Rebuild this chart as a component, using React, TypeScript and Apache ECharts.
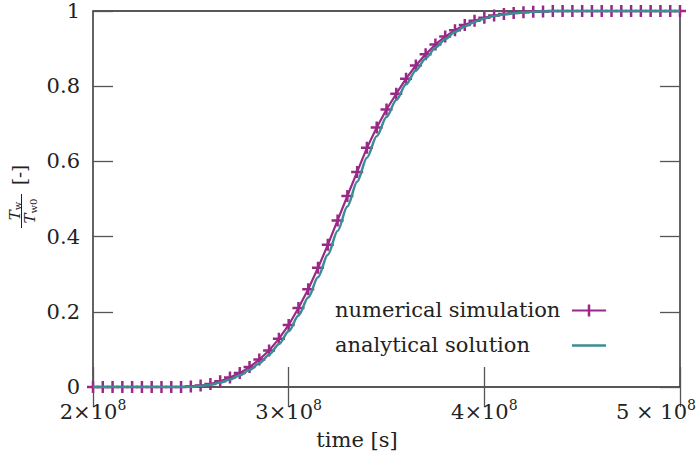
import React, { useEffect, useRef } from "react";
import * as echarts from "echarts";

// time samples, in units of 1e8 s
const timeE8 = [
  2.0, 2.05, 2.1, 2.15, 2.2, 2.25, 2.3, 2.35, 2.4, 2.45,
  2.5, 2.55, 2.6, 2.65, 2.7, 2.75, 2.8, 2.85, 2.9, 2.95,
  3.0, 3.05, 3.1, 3.15, 3.2, 3.25, 3.3, 3.35, 3.4, 3.45,
  3.5, 3.55, 3.6, 3.65, 3.7, 3.75, 3.8, 3.85, 3.9, 3.95,
  4.0, 4.05, 4.1, 4.15, 4.2, 4.25, 4.3, 4.35, 4.4, 4.45,
  4.5, 4.55, 4.6, 4.65, 4.7, 4.75, 4.8, 4.85, 4.9, 4.95,
  5.0,
];

const numerical = [
  0, 0, 0, 0, 0, 0, 0, 0, 0, 0,
  0.001, 0.004, 0.008, 0.015, 0.025, 0.037, 0.053, 0.073, 0.097, 0.128,
  0.165, 0.21, 0.26, 0.317, 0.378, 0.443, 0.508, 0.572, 0.636, 0.69,
  0.738, 0.78, 0.82, 0.855, 0.885, 0.911, 0.932, 0.949, 0.963, 0.974,
  0.982, 0.988, 0.992, 0.995, 0.997, 0.998, 0.999, 1, 1, 1,
  1, 1, 1, 1, 1, 1, 1, 1, 1, 1,
  1,
];

const analytical = [
  0, 0, 0, 0, 0, 0, 0, 0, 0, 0,
  0.0, 0.003, 0.006, 0.012, 0.02, 0.031, 0.045, 0.063, 0.086, 0.114,
  0.148, 0.19, 0.238, 0.292, 0.352, 0.415, 0.48, 0.546, 0.61, 0.667,
  0.718, 0.763, 0.805, 0.842, 0.874, 0.902, 0.925, 0.944, 0.959, 0.971,
  0.98, 0.987, 0.991, 0.994, 0.996, 0.998, 0.999, 1, 1, 1,
  1, 1, 1, 1, 1, 1, 1, 1, 1, 1,
  1,
];

const xTickValuesE8 = [2, 3, 4, 5];
const xTickMantissa = ["2×10", "3×10", "4×10", "5 × 10"];
const xTickExponent = "8";
const yTickValues = [0, 0.2, 0.4, 0.6, 0.8, 1];
const yTickLabels = ["0", "0.2", "0.4", "0.6", "0.8", "1"];

const seriesNames = ["numerical simulation", "analytical solution"];
const xTitle = "time [s]";

const PURPLE = "#9b2787";
const TEAL = "#3a8d96";
const TEXT = "#222";
const FONT = "DejaVu Serif";
const FS = 21;

export default function App() {
  const ref = useRef<HTMLDivElement>(null);

  useEffect(() => {
    if (!ref.current) return;
    const chart = echarts.init(ref.current, null, { renderer: "svg" });

    const numData = timeE8.map((t, i) => [t * 1e8, numerical[i]]);
    const anaData = timeE8.map((t, i) => [t * 1e8, analytical[i]]);

    const baseTick = {
      inside: true,
      length: 20,
      lineStyle: { color: "#555", width: 1.3 },
    };

    const option: any = {
      animation: false,
      backgroundColor: "#fff",
      textStyle: { fontFamily: FONT },
      grid: {
        left: 93,
        right: 16,
        top: 11,
        bottom: 69,
        containLabel: false,
        outerBoundsMode: "none",
        show: true,
        borderColor: "#222",
        borderWidth: 1.4,
        backgroundColor: "transparent",
      },
      xAxis: [
        {
          type: "value",
          min: 2e8,
          max: 5e8,
          interval: 1e8,
          axisLine: { show: false },
          axisTick: baseTick,
          splitLine: { show: false },
          axisLabel: {
            margin: 11,
            color: TEXT,
            fontFamily: FONT,
            formatter: (v: number) => {
              const idx = xTickValuesE8.findIndex((t) => Math.abs(t * 1e8 - v) < 1);
              if (idx < 0) return "";
              const last = idx === xTickValuesE8.length - 1;
              return last
                ? `{ml|${xTickMantissa[idx]}}{el|${xTickExponent}}`
                : `{m|${xTickMantissa[idx]}}{e|${xTickExponent}}`;
            },
            rich: {
              m: { fontSize: FS, fontFamily: FONT, color: TEXT },
              e: {
                fontSize: 14,
                fontFamily: FONT,
                color: TEXT,
                verticalAlign: "bottom",
                padding: [0, 0, 14, 0],
              },
              ml: { fontSize: FS, fontFamily: FONT, color: TEXT },
              el: {
                fontSize: 14,
                fontFamily: FONT,
                color: TEXT,
                verticalAlign: "bottom",
                padding: [0, 48, 14, 0],
              },
            },
          },
        },
        {
          type: "value",
          position: "top",
          min: 2e8,
          max: 5e8,
          interval: 1e8,
          axisLine: { show: false },
          axisTick: baseTick,
          axisLabel: { show: false },
          splitLine: { show: false },
        },
      ],
      yAxis: [
        {
          type: "value",
          min: 0,
          max: 1,
          interval: 0.2,
          axisLine: { show: false },
          axisTick: baseTick,
          splitLine: { show: false },
          axisLabel: {
            margin: 13,
            color: TEXT,
            fontFamily: FONT,
            fontSize: FS,
            formatter: (v: number) => {
              const idx = yTickValues.findIndex((t) => Math.abs(t - v) < 1e-6);
              return idx < 0 ? "" : yTickLabels[idx];
            },
          },
        },
        {
          type: "value",
          position: "right",
          min: 0,
          max: 1,
          interval: 0.2,
          axisLine: { show: false },
          axisTick: baseTick,
          axisLabel: { show: false },
          splitLine: { show: false },
        },
      ],
      series: [
        {
          name: seriesNames[0],
          type: "line",
          data: numData,
          clip: false,
          symbol: "path://M6,0L6,12M0,6L12,6",
          symbolSize: 12,
          showSymbol: true,
          lineStyle: { color: PURPLE, width: 2.2 },
          itemStyle: { color: PURPLE, borderColor: PURPLE, borderWidth: 2.5 },
          z: 2,
        },
        {
          name: seriesNames[1],
          type: "line",
          data: anaData,
          smooth: 0.3,
          smoothMonotone: "x",
          showSymbol: false,
          lineStyle: { color: TEAL, width: 2.5 },
          z: 3,
        },
      ],
      graphic: [
        // legend
        {
          type: "text",
          x: 335,
          y: 310,
          style: {
            text: seriesNames[0],
            fill: TEXT,
            fontSize: FS,
            fontFamily: FONT,
            verticalAlign: "middle",
          },
        },
        {
          type: "line",
          shape: { x1: 572, y1: 310.5, x2: 606, y2: 310.5 },
          style: { stroke: PURPLE, lineWidth: 2.2 },
        },
        {
          type: "line",
          shape: { x1: 589, y1: 304.5, x2: 589, y2: 316.5 },
          style: { stroke: PURPLE, lineWidth: 2.5 },
        },
        {
          type: "text",
          x: 335,
          y: 345,
          style: {
            text: seriesNames[1],
            fill: TEXT,
            fontSize: FS,
            fontFamily: FONT,
            verticalAlign: "middle",
          },
        },
        {
          type: "line",
          shape: { x1: 572, y1: 345.5, x2: 606, y2: 345.5 },
          style: { stroke: TEAL, lineWidth: 2.5 },
        },
        // x title
        {
          type: "text",
          x: 357,
          y: 440,
          style: {
            text: xTitle,
            fill: TEXT,
            fontSize: FS,
            fontFamily: FONT,
            align: "center",
            verticalAlign: "middle",
          },
        },
        // y title: fraction T_w / T_w0 [-], rotated
        {
          type: "group",
          x: 21.5,
          y: 211,
          rotation: Math.PI / 2,
          children: [
            {
              type: "text",
              x: 0,
              y: -7,
              style: {
                text: "{i|T}{s|w}",
                align: "center",
                verticalAlign: "middle",
                rich: {
                  i: { fontSize: 15, fontStyle: "italic", fontFamily: FONT, fill: TEXT },
                  s: { fontSize: 10, fontFamily: FONT, fill: TEXT, verticalAlign: "bottom", padding: [6, 0, 0, 0] },
                },
              },
            },
            {
              type: "line",
              shape: { x1: -17, y1: 0, x2: 17, y2: 0 },
              style: { stroke: TEXT, lineWidth: 1 },
            },
            {
              type: "text",
              x: 0,
              y: 8.5,
              style: {
                text: "{i|T}{s|w0}",
                align: "center",
                verticalAlign: "middle",
                rich: {
                  i: { fontSize: 15, fontStyle: "italic", fontFamily: FONT, fill: TEXT },
                  s: { fontSize: 10, fontFamily: FONT, fill: TEXT, verticalAlign: "bottom", padding: [6, 0, 0, 0] },
                },
              },
            },
            {
              type: "text",
              x: 36,
              y: -2,
              style: {
                text: "[-]",
                fill: TEXT,
                fontSize: 18,
                fontFamily: FONT,
                align: "center",
                verticalAlign: "middle",
              },
            },
          ],
        },
      ],
    };

    chart.setOption(option);
    return () => chart.dispose();
  }, []);

  return (
    <div
      ref={ref}
      style={{ position: "absolute", left: 0, top: 0, width: 696, height: 456 }}
    />
  );
}
